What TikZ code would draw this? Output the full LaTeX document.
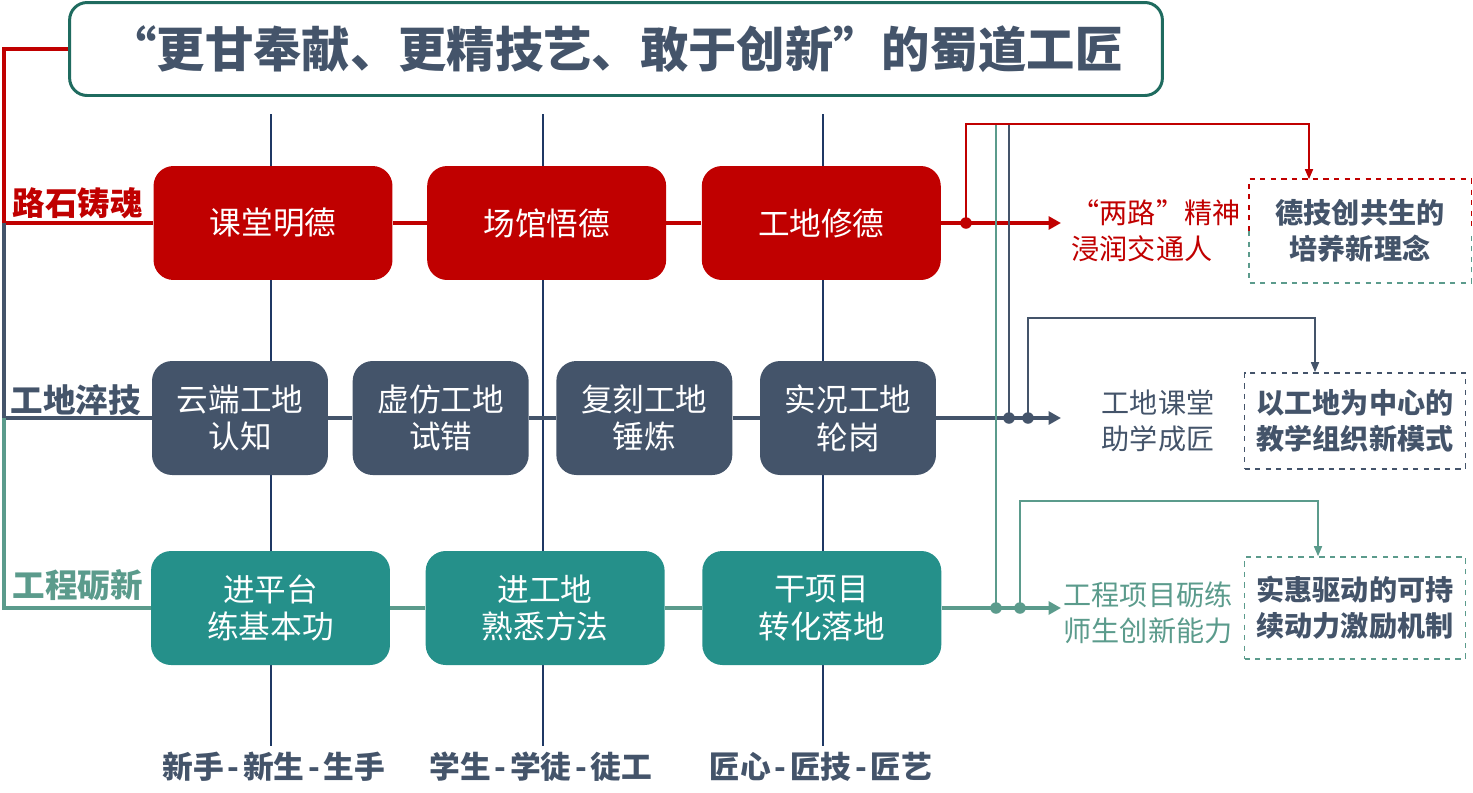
\documentclass[tikz,border=0pt]{standalone}
\usepackage{fontspec}
\setmainfont{Noto Sans CJK SC}
\usetikzlibrary{positioning,arrows.meta}
\definecolor{lsred}{HTML}{C00000}
\definecolor{lsslate}{HTML}{44546A}
\definecolor{lsteal}{HTML}{25908A}
\definecolor{lsgreen}{HTML}{5B9B8C}
\definecolor{lsnavy}{HTML}{1F3864}
\definecolor{lsframe}{HTML}{1F6B5F}

\begin{document}
\begin{tikzpicture}[x=0.02cm, y=-0.02cm, font=\fontsize{18}{21.5}\selectfont]
    \tikzstyle{stage} = [rectangle, rounded corners=0.4cm, minimum width=4.78cm, minimum height=2.28cm, text centered, align=center, text=white, inner sep=2pt]
    \tikzstyle{moral} = [stage, fill=lsred]
    \tikzstyle{skill} = [stage, fill=lsslate, minimum width=3.52cm]
    \tikzstyle{innov} = [stage, fill=lsteal]
    \tikzstyle{goal} = [rectangle, dashed, line width=0.9pt, minimum width=4.42cm, minimum height=2.04cm, align=center, text=lsslate, font=\fontsize{16}{20.5}\selectfont\bfseries]
    \tikzstyle{track} = [anchor=east, font=\fontsize{18.5}{22}\selectfont\bfseries]
    \tikzstyle{result} = [align=left, font=\fontsize{16}{20.5}\selectfont]
    \tikzstyle{phase} = [text=lsslate, font=\fontsize{17.5}{20}\selectfont\bfseries]
    \tikzstyle{joint} = [circle, fill, inner sep=0pt, minimum size=0.23cm]
    \tikzstyle{mainline} = [line width=2.3pt]
    \tikzstyle{railline} = [line width=2pt]
    \tikzstyle{feedline} = [line width=0.85pt]
    \tikzstyle{bigtip} = [-{Triangle[length=0.25cm, width=0.26cm]}]
    \tikzstyle{smalltip} = [-{Triangle[length=0.2cm, width=0.16cm]}]

    \useasboundingbox (0,0) rectangle (1473,792);

    % Title
    \node [draw=lsframe, line width=1.7pt, rounded corners=0.35cm, minimum width=21.86cm, minimum height=1.86cm, text=lsslate, font=\fontsize{27.5}{30}\selectfont\bfseries] (title) at (616,49) {“更甘奉献、更精技艺、敢于创新”的蜀道工匠};

    % Growth levels
    \node [phase] (novice) at (274,767) {新手\hspace{0.12em}-\hspace{0.12em}新生\hspace{0.12em}-\hspace{0.12em}生手};
    \node [phase] (learner) at (541,767) {学生\hspace{0.12em}-\hspace{0.12em}学徒\hspace{0.12em}-\hspace{0.12em}徒工};
    \node [phase] (master) at (821,767) {匠心\hspace{0.12em}-\hspace{0.12em}匠技\hspace{0.12em}-\hspace{0.12em}匠艺};
    \coordinate (axisa) at (271,114);
    \coordinate (axisb) at (543,114);
    \coordinate (axisc) at (823,114);
    \draw [lsnavy, line width=1.3pt] (axisa) -- (axisa |- novice.north);
    \draw [lsnavy, line width=1.3pt] (axisb) -- (axisb |- learner.north);
    \draw [lsnavy, line width=1.3pt] (axisc) -- (axisc |- master.north);

    % Row 1
    \node [moral] (classroom) at (273,223) {课堂明德};
    \node [moral, right=0.68cm of classroom] (museum) {场馆悟德};
    \node [moral, right=0.7cm of museum] (worksite) {工地修德};

    % Row 2
    \node [skill] (cloud) at (240,418) {云端工地\\认知};
    \node [skill, right=0.48cm of cloud] (virtual) {虚仿工地\\试错};
    \node [skill, right=0.54cm of virtual] (replica) {复刻工地\\锤炼};
    \node [skill, right=0.54cm of replica] (onsite) {实况工地\\轮岗};

    % Row 3
    \node [innov] (platform) at (270.5,608) {进平台\\练基本功};
    \node [innov, right=0.7cm of platform] (fieldwork) {进工地\\熟悉方法};
    \node [innov, right=0.74cm of fieldwork] (project) {干项目\\转化落地};

    % Row links
    \draw [lsred, mainline] (classroom) -- (museum);
    \draw [lsred, mainline] (museum) -- (worksite);
    \draw [lsslate, mainline] (cloud) -- (virtual);
    \draw [lsslate, mainline] (virtual) -- (replica);
    \draw [lsslate, mainline] (replica) -- (onsite);
    \draw [lsgreen, mainline] (platform) -- (fieldwork);
    \draw [lsgreen, mainline] (fieldwork) -- (project);

    % Tracks
    \coordinate (rail1) at (4,223);
    \coordinate (rail2) at (4,418);
    \draw [lsred, railline] (title.west) -| (rail1) -- (classroom);
    \draw [lsslate, railline] (rail1) |- (cloud);
    \draw [lsgreen, railline] (rail2) |- (platform);
    \node [track, text=lsred] (soul) at (149,203) {路石铸魂};
    \node [track, text=lsslate] (temper) at (147,400) {工地淬技};
    \node [track, text=lsgreen] (renew) at (149,585) {工程砺新};

    % Results
    \node [result, text=lsred] (spirit) at (1156,231) {“两路”精神\\浸润交通人};
    \node [result, text=lsslate] (classwork) at (1158,421) {工地课堂\\助学成匠};
    \node [result, text=lsgreen] (ability) at (1148,613) {工程项目砺练\\师生创新能力};

    % Goals
    \node [goal] (concept) at (1360,231) {德技创共生的\\培养新理念};
    \draw [lsred, dashed, line width=0.9pt] (concept.west) |- (concept.north east) -- (concept.east);
    \draw [lsgreen, dashed, line width=0.9pt] (concept.west) |- (concept.south east) -- (concept.east);
    \node [goal, draw=lsslate, minimum height=1.92cm] (model) at (1355,421) {以工地为中心的\\教学组织新模式};
    \node [goal, draw=lsgreen] (incentive) at (1355,608) {实惠驱动的可持\\续动力激励机制};

    % Outputs
    \coordinate (out1) at (1061,223);
    \coordinate (out2) at (1061,418);
    \coordinate (out3) at (1061,608);
    \coordinate (merge) at (0,124);
    \draw [lsred, mainline, bigtip] (worksite) -- (out1);
    \draw [lsslate, mainline, bigtip] (onsite) -- (out2);
    \draw [lsgreen, mainline, bigtip] (project) -- (out3);

    \node [joint, lsred] (j1) at (966,223) {};
    \node [joint, lsslate] (j2a) at (1009,418) {};
    \node [joint, lsslate] (j2b) at (1028,418) {};
    \node [joint, lsgreen] (j3a) at (996,608) {};
    \node [joint, lsgreen] (j3b) at (1020,608) {};

    % Feedback to goals
    \draw [lsgreen, feedline] (j3a.center) -- (j3a |- merge);
    \draw [lsslate, feedline] (j2a.center) -- (j2a |- merge);
    \draw [lsred, feedline, smalltip] (j1.center) -- (j1 |- merge) -| (concept.north -| 1309,0);
    \draw [lsslate, feedline, smalltip] (j2b.center) -- (j2b |- 0,318) -| (model.north -| 1315,0);
    \draw [lsgreen, feedline, smalltip] (j3b.center) -- (j3b |- 0,501) -| (incentive.north -| 1318,0);
\end{tikzpicture}
\end{document}
